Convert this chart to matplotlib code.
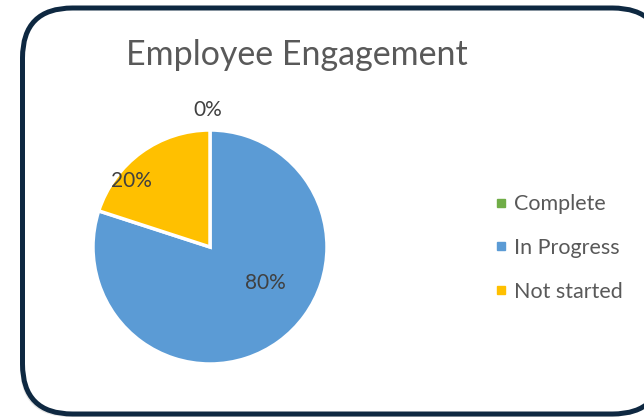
"""Employee Engagement pie chart"""
import matplotlib
matplotlib.use('Agg')
import matplotlib.pyplot as plt
from matplotlib.patches import FancyBboxPatch
from matplotlib.lines import Line2D

# Datos
categories = ['Complete', 'In Progress', 'Not started']
values = [0, 80, 20]
colors = ['#70AD47', '#5B9BD5', '#FFC000']

# Posiciones de etiquetas (coordenadas del eje del pie)
label_pos = [(-0.02, 1.17), (0.47, -0.31), (-0.67, 0.56)]

plt.rcParams['font.family'] = ['Lato', 'DejaVu Sans']
text_color = '#595959'

W, H = 644, 417
fig = plt.figure(figsize=(W / 100, H / 100), dpi=100)

# Fondo con borde redondeado (coordenadas en pixeles)
bg = fig.add_axes([0, 0, 1, 1])
bg.set_xlim(0, W)
bg.set_ylim(H, 0)
bg.axis('off')
shadow = FancyBboxPatch((20, 11), 640, 406, boxstyle='round,pad=0,rounding_size=50',
                        facecolor='#CCCCCC', edgecolor='none', alpha=0.5)
bg.add_patch(shadow)
box = FancyBboxPatch((22.5, 8), 640, 406, boxstyle='round,pad=0,rounding_size=50',
                     facecolor='white', edgecolor='#0E2841', linewidth=3.6)
bg.add_patch(box)

# Titulo
fig.text(297 / W, 1 - 55 / H, 'Employee Engagement', ha='center', va='center',
         fontsize=24.5, color=text_color)

# Pie
ax = fig.add_axes([93 / W, 1 - 364 / H, 234 / W, 234 / H])
wedges, _ = ax.pie(values, colors=colors, startangle=90, counterclock=False,
                   wedgeprops=dict(edgecolor='white', linewidth=2.5))
ax.set_xlim(-1, 1)
ax.set_ylim(-1, 1)
ax.set_aspect('equal')
ax.axis('off')

total = sum(values)
for v, (x, y) in zip(values, label_pos):
    ax.text(x, y, f'{v / total * 100:.0f}%', ha='center', va='center',
            fontsize=15, color='#404040', clip_on=False)

# Leyenda
handles = [Line2D([0], [0], marker='s', linestyle='none', markersize=6,
                  markerfacecolor=c, markeredgecolor=c) for c in colors]
fig.legend(handles, categories, loc='center left', bbox_to_anchor=(476 / W, 1 - 248 / H),
           frameon=False, fontsize=15.5, labelcolor=text_color, handlelength=0.5,
           handletextpad=0.35, labelspacing=1.1)

fig.savefig('out.png', dpi=100)
